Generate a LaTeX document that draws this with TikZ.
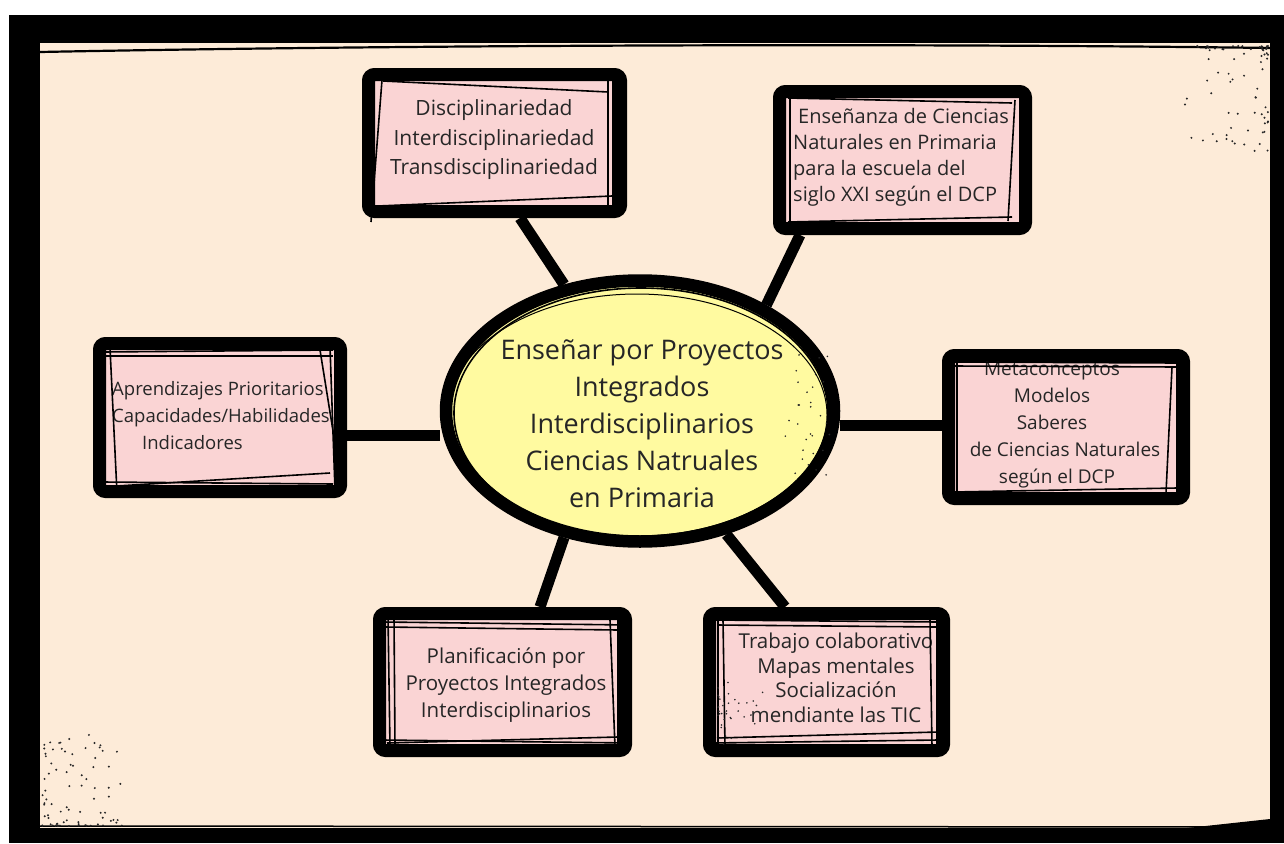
\documentclass[tikz,border=0pt]{standalone}
\usepackage{fontspec}
\setmainfont{Open Sans}
\usetikzlibrary{shapes.geometric,calc,backgrounds}
\definecolor{cream}{RGB}{253,235,216}
\definecolor{pinkfill}{RGB}{250,212,212}
\definecolor{yellowfill}{RGB}{255,250,160}
\definecolor{ink}{RGB}{38,38,38}
\pgfdeclarelayer{links}
\pgfsetlayers{background,links,main}
\newcommand{\txtsize}[2]{\fontsize{#1}{#2}\selectfont}

\begin{document}
\begin{tikzpicture}[x=1pt,y=-1pt,
  card/.style={rectangle, draw=black, line width=13pt, fill=pinkfill,
               rounded corners=6pt, inner sep=0pt},
  hub/.style={ellipse, draw=black, line width=12.5pt, fill=yellowfill, inner sep=0pt},
  spoke/.style={line width=11pt, black},
  sketch/.style={line width=1.6pt, black},
  txt/.style={text=ink, inner sep=0pt, align=center},
  speck/.style={fill=black!85},
]
\useasboundingbox (0,0) rectangle (1284,843);

% frame: white margin, black band, cream sheet
\begin{pgfonlayer}{background}
  \fill[white] (0,0) rectangle (1284,843);
  \fill[black] (9,15) rectangle (1284,843);
  \fill[cream] (40,43) rectangle (1270,828);
  \draw[line width=2.2pt] (40,52) .. controls (400,45) and (900,43) .. (1270,48);
  \draw[line width=1.5pt] (40,826) -- (1270,827);
  \fill[black] (1187,828) -- (1270,819) -- (1270,828) -- cycle;
  % scattered specks in two corners
  \pgfmathsetseed{17}
  \foreach \k in {1,...,75}{
    \pgfmathsetmacro{\u}{rnd}\pgfmathsetmacro{\v}{rnd}
    \fill[speck] ({1268-85*\u*\u},{46+105*\v*\v}) circle (1.1);
  }
  \foreach \k in {1,...,80}{
    \pgfmathsetmacro{\u}{rnd}\pgfmathsetmacro{\v}{rnd}
    \fill[speck] ({42+80*\u*\u},{826-95*\v*\v}) circle (1.1);
  }
\end{pgfonlayer}

% centre topic
\node[hub, minimum width=388pt, minimum height=261pt] (hub) at (640,411) {};
\draw[sketch] (641,413) ellipse [x radius=187, y radius=125];
\draw[sketch, line width=1pt] (637,415) ellipse [x radius=190, y radius=121];
\pgfmathsetseed{5}
\foreach \k in {1,...,30}{
  \pgfmathsetmacro{\u}{rnd}\pgfmathsetmacro{\v}{rnd}
  \fill[speck] ({830-45*\u},{350+125*\v}) circle (0.9);
}
\node[txt, font=\txtsize{27}{37}] (hubT) at (642,424)
  {Enseñar por Proyectos\\Integrados\\Interdisciplinarios\\Ciencias Natruales\\en Primaria};

% surrounding cards
\node[card, minimum width=252pt, minimum height=137pt] (dis) at (494.5,143) {};
\node[card, minimum width=246pt, minimum height=137pt] (ens) at (902.5,160) {};
\node[card, minimum width=241pt, minimum height=148pt] (apr) at (220,417.5) {};
\node[card, minimum width=235pt, minimum height=143pt] (met) at (1066,427) {};
\node[card, minimum width=246pt, minimum height=137pt] (pla) at (502.5,682) {};
\node[card, minimum width=234pt, minimum height=137pt] (tra) at (826.5,682) {};

% card texts
\node[txt, font=\txtsize{21}{29.5}] (disT) at (494,140)
  {Disciplinariedad\\Interdisciplinariedad\\Transdisciplinariedad};
\node[txt, align=left, anchor=west, font=\txtsize{20}{26}] (ensT) at (793,157)
  {\hspace*{5pt}Enseñanza de Ciencias\\Naturales en Primaria\\para la escuela del\\siglo XXI según el DCP};
\node[txt, align=left, anchor=west, font=\txtsize{18.5}{27}] (aprT) at (112,416)
  {Aprendizajes Prioritarios\\Capacidades/Habilidades\\\hspace*{30pt}Indicadores};
\node[txt, font=\txtsize{19}{27}] (metT) at (1052,425)
  {Metaconceptos\\Modelos\\Saberes\\\hspace*{26pt}de Ciencias Naturales\\\hspace*{10pt}según el DCP};
\node[txt, font=\txtsize{20.5}{27}] (plaT) at (506,685)
  {Planificación por\\Proyectos Integrados\\Interdisciplinarios};
\node[txt, font=\txtsize{20.5}{24.5}] (traT) at (836,678)
  {Trabajo colaborativo\\Mapas mentales\\Socialización\\mendiante las TIC};

% hand-drawn strokes over the cards
\draw[sketch] (383,81) -- (608,92);
\draw[sketch] (382,80) -- (371,222);
\draw[sketch] (608,78) -- (608,208);
\draw[sketch] (613,78) -- (613,208);
\draw[sketch] (378,206) -- (612,196);

\draw[sketch] (788,98) -- (1012,103);
\draw[sketch] (790,97) -- (790,222);
\draw[sketch] (1015,100) -- (1008,221);
\draw[sketch] (788,222) -- (1012,217);

\draw[sketch] (103,352) -- (333,350);
\draw[sketch] (103,356) -- (333,356);
\draw[sketch] (110,348) -- (117,493);
\draw[sketch] (320,350) -- (343,493);
\draw[sketch] (330,347) -- (335,490);
\draw[sketch] (100,487) -- (330,473);
\draw[sketch] (103,482) -- (333,484);

\draw[sketch] (953,362) -- (1177,363);
\draw[sketch] (953,366) -- (1177,367);
\draw[sketch] (957,358) -- (957,495);
\draw[sketch] (1172,367) -- (1166,493);
\draw[sketch] (1177,362) -- (1177,493);
\draw[sketch] (953,492) -- (1177,488);

\draw[sketch] (383,622) -- (630,625);
\draw[sketch] (385,627) -- (618,630);
\draw[sketch] (388,617) -- (390,747);
\draw[sketch] (394,617) -- (395,747);
\draw[sketch] (610,620) -- (615,747);
\draw[sketch] (618,620) -- (618,747);
\draw[sketch] (383,740) -- (630,743);
\draw[sketch] (387,743) -- (618,737);

\draw[sketch] (713,620) -- (938,622);
\draw[sketch] (717,625) -- (937,627);
\draw[sketch] (718,617) -- (718,748);
\draw[sketch] (723,620) -- (725,747);
\draw[sketch] (930,620) -- (932,747);
\draw[sketch] (937,620) -- (937,747);
\draw[sketch] (713,743) -- (938,740);
\draw[sketch] (717,738) -- (938,732);
\pgfmathsetseed{9}
\foreach \k in {1,...,35}{
  \pgfmathsetmacro{\u}{rnd}\pgfmathsetmacro{\v}{rnd}
  \fill[speck] ({718+45*\u*\u},{680+65*\v}) circle (0.9);
}

% spokes from the centre topic to each card
\begin{pgfonlayer}{links}
  \draw[spoke] ($(dis.south)+(25.5,0)$) -- (hub.121);
  \draw[spoke] ($(ens.south)+(-102.5,0)$) -- (hub.40);
  \draw[spoke] ($(apr.east)+(0,17.5)$) coordinate (aprL) -- (aprL -| hub.west);
  \draw[spoke] ($(met.west)+(0,-2)$) coordinate (metL) -- (metL -| hub.east);
  \draw[spoke] ($(pla.north)+(37.5,0)$) -- (hub.239);
  \draw[spoke] ($(tra.north)+(-41.5,0)$) -- (hub.305);
\end{pgfonlayer}
\end{tikzpicture}
\end{document}
